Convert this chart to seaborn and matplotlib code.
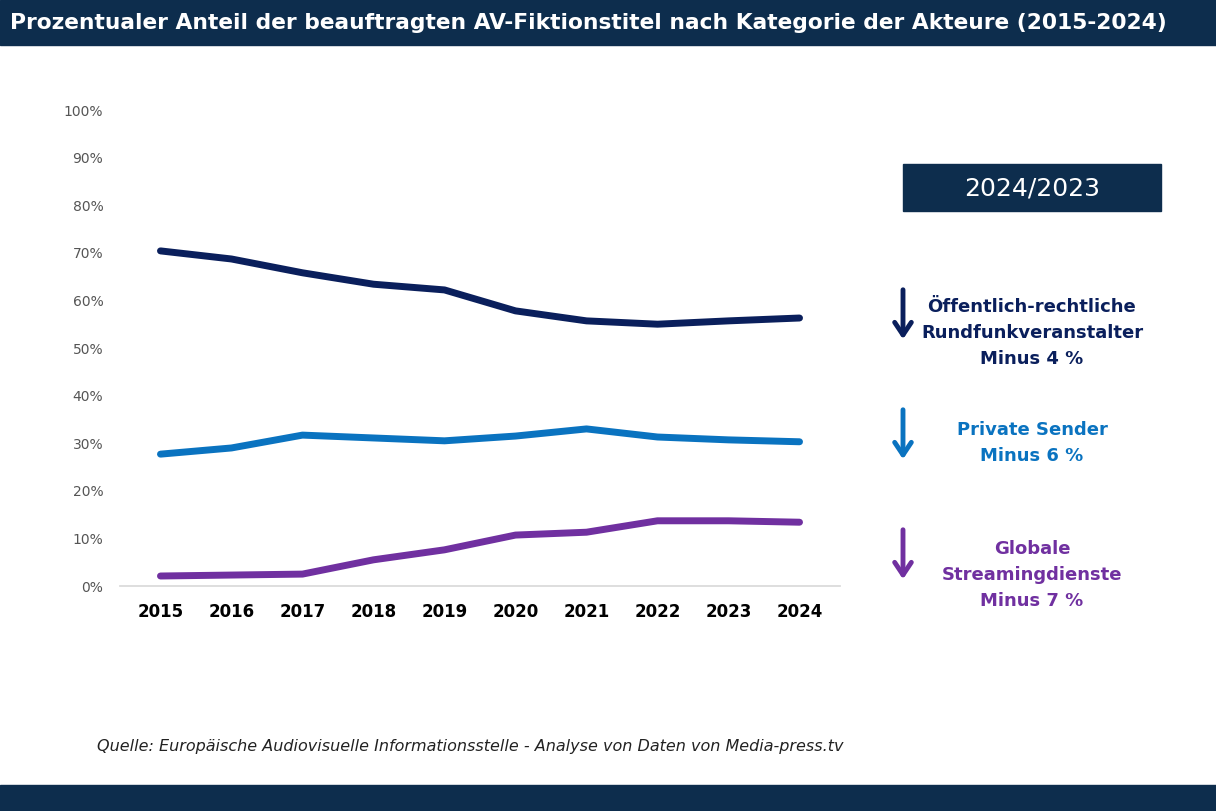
import matplotlib
matplotlib.use("Agg")
import matplotlib.pyplot as plt
import seaborn as sns

years = [2015, 2016, 2017, 2018, 2019, 2020, 2021, 2022, 2023, 2024]
oeffentlich = [70.4, 68.7, 65.8, 63.4, 62.2, 57.8, 55.7, 55.0, 55.7, 56.3]
privat = [27.7, 29.0, 31.7, 31.1, 30.5, 31.5, 33.0, 31.3, 30.7, 30.3]
streaming = [2.1, 2.3, 2.5, 5.5, 7.6, 10.7, 11.3, 13.7, 13.7, 13.4]
yticks = list(range(0, 101, 10))

navy = "#0d2d4d"
c1, c2, c3 = "#0a1f5c", "#0a73c0", "#7030a0"

sns.set_theme(style="white")
plt.rcParams['font.family'] = ['DejaVu Sans']
fig = plt.figure(figsize=(12.16, 8.11), dpi=100)
ax = fig.add_axes([120/1216, 1-586/811, 720/1216, 476/811])
x = list(range(len(years)))
for vals, c in [(oeffentlich, c1), (privat, c2), (streaming, c3)]:
    sns.lineplot(x=x, y=vals, ax=ax, color=c, linewidth=5)
ax.set_ylim(0, 100)
ax.set_xlim(-0.57, 9.57)
ax.set_yticks(yticks)
ax.set_yticklabels([f"{v}%" for v in yticks], fontsize=10, color="#555555")
ax.set_xticks(x)
ax.set_xticklabels([str(y) for y in years], fontsize=12, fontweight="bold", color="black")
for s in ["top", "right", "left"]:
    ax.spines[s].set_visible(False)
ax.spines["bottom"].set_color("#d9d9d9")
ax.tick_params(axis="y", length=0, pad=12)
ax.tick_params(axis="x", length=0, pad=12)

fig.patches.append(plt.Rectangle((0, 1-45/811), 1, 45/811, transform=fig.transFigure, color=navy))
fig.patches.append(plt.Rectangle((0, 0), 1, 26/811, transform=fig.transFigure, color=navy))
fig.text(10/1216, 1-23/811, "Prozentualer Anteil der beauftragten AV-Fiktionstitel nach Kategorie der Akteure (2015-2024)",
         color="white", fontsize=15.7, fontweight="bold", va="center")
fig.patches.append(plt.Rectangle((903/1216, 1-211/811), 258/1216, 47/811, transform=fig.transFigure, color=navy))
fig.text(1032/1216, 1-188/811, "2024/2023", color="white", fontsize=18, ha="center", va="center")

for ytop, ybot, c, txt, ty in [(287, 342, c1, "Öffentlich-rechtliche\nRundfunkveranstalter\nMinus 4 %", 333),
                               (407, 462, c2, "Private Sender\nMinus 6 %", 443),
                               (527, 582, c3, "Globale\nStreamingdienste\nMinus 7 %", 575)]:
    fig.patches.append(matplotlib.patches.FancyArrowPatch((903/1216, 1-ytop/811), (903/1216, 1-ybot/811),
                       transform=fig.transFigure, arrowstyle="->,head_width=4,head_length=6", color=c, lw=3.5, mutation_scale=1.5))
    fig.text(1032/1216, 1-ty/811, txt, color=c, fontsize=13, fontweight="bold", ha="center", va="center", linespacing=1.55)

fig.text(97/1216, 1-746/811, "Quelle: Europäische Audiovisuelle Informationsstelle - Analyse von Daten von Media-press.tv",
         fontsize=11.5, style="italic", color="#222222", va="center")
fig.savefig("out.png", dpi=100)
